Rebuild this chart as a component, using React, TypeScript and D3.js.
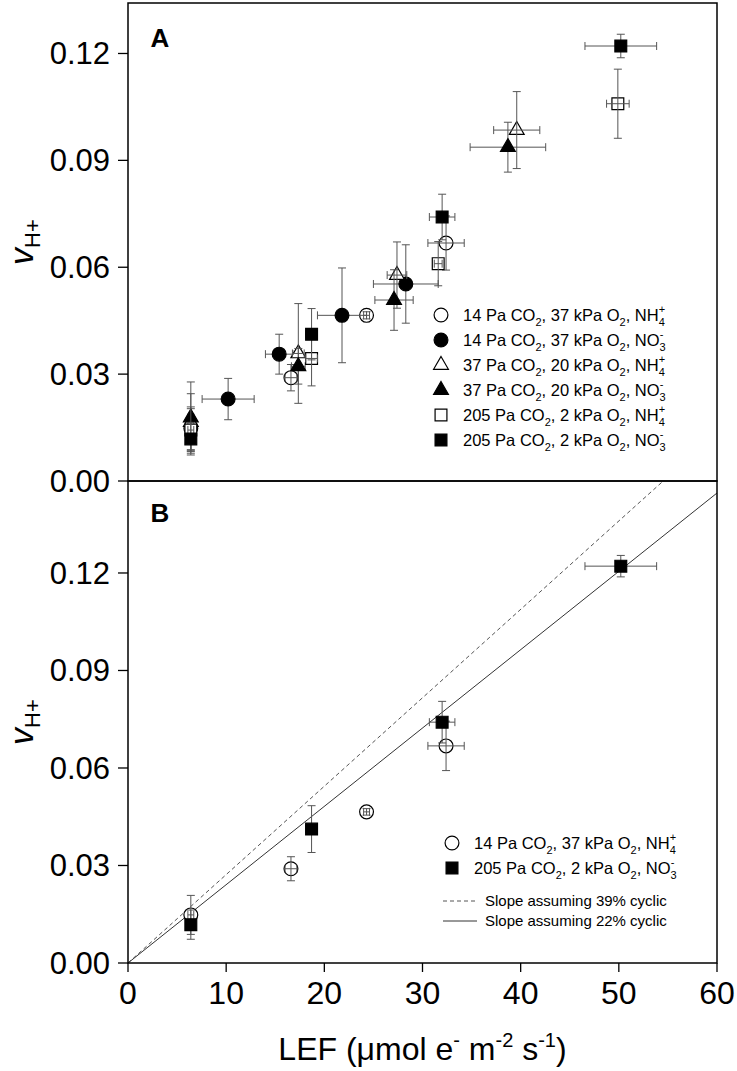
import React from 'react';
import * as d3 from 'd3';

// LEF (x) and vH+ (y) with their error bars, one set per treatment
const lef14NH4 = [6.4, 16.6, 24.3, 32.4];
const vh14NH4 = [0.0148, 0.029, 0.0465, 0.0668];
const lefErr14NH4 = [0.3, 0.6, 0.3, 1.85];
const vhErr14NH4 = [0.006, 0.0037, 0.001, 0.0076];

const lef14NO3 = [10.2, 15.4, 21.8, 28.3];
const vh14NO3 = [0.023, 0.0356, 0.0465, 0.0553];
const lefErr14NO3 = [2.65, 1.4, 2.5, 3.3];
const vhErr14NO3 = [0.0058, 0.0056, 0.0133, 0.011];

const lef37NH4 = [6.4, 17.35, 27.4, 39.6];
const vh37NH4 = [0.0165, 0.0358, 0.0578, 0.0985];
const lefErr37NH4 = [0.3, 0.6, 1.0, 2.35];
const vhErr37NH4 = [0.008, 0.014, 0.0093, 0.0108];

const lef37NO3 = [6.4, 17.35, 27.1, 38.7];
const vh37NO3 = [0.0178, 0.0322, 0.0508, 0.0937];
const lefErr37NO3 = [0.3, 0.7, 1.95, 3.85];
const vhErr37NO3 = [0.01, 0.005, 0.0085, 0.007];

const lef205NH4 = [6.4, 18.7, 31.6, 49.9];
const vh205NH4 = [0.0143, 0.0344, 0.061, 0.1059];
const lefErr205NH4 = [0.3, 0.6, 0.4, 1.15];
const vhErr205NH4 = [0.006, 0.0077, 0.0062, 0.0097];

const lef205NO3 = [6.4, 18.7, 32.0, 50.2];
const vh205NO3 = [0.0118, 0.0412, 0.0741, 0.1221];
const lefErr205NO3 = [0.3, 0.6, 1.3, 3.65];
const vhErr205NO3 = [0.0045, 0.0072, 0.0064, 0.0033];

const co2Labels = ['14', '14', '37', '37', '205', '205'];
const o2Labels = ['37', '37', '20', '20', '2', '2'];
const ionBase = ['NH', 'NO', 'NH', 'NO', 'NH', 'NO'];
const ionSub = ['4', '3', '4', '3', '4', '3'];
const ionSup = ['+', '-', '+', '-', '+', '-'];

const yTicks = [0, 0.03, 0.06, 0.09, 0.12];
const xTicks = [0, 10, 20, 30, 40, 50, 60];

// slopes of the two reference lines in panel B
const slope39 = 0.00272;
const slope22 = 0.00241;
const slopeLabels = ['Slope assuming 39% cyclic', 'Slope assuming 22% cyclic'];

const FONT = 'Liberation Sans, Arial, Helvetica, sans-serif';
const L = 128, R = 717;
const A_TOP = 3, MID = 481, B_BOT = 963;

const x = d3.scaleLinear().domain([0, 60]).range([L, R]);
const yA = d3.scaleLinear().domain([0, 0.13417]).range([MID, A_TOP]);
const yB = d3.scaleLinear().domain([0, 0.1483]).range([B_BOT, MID]);

type Series = {
  xs: number[]; ys: number[]; xe: number[]; ye: number[];
  shape: 'circle' | 'triangle' | 'square'; filled: boolean;
};

const series: Series[] = [
  { xs: lef14NH4, ys: vh14NH4, xe: lefErr14NH4, ye: vhErr14NH4, shape: 'circle', filled: false },
  { xs: lef14NO3, ys: vh14NO3, xe: lefErr14NO3, ye: vhErr14NO3, shape: 'circle', filled: true },
  { xs: lef37NH4, ys: vh37NH4, xe: lefErr37NH4, ye: vhErr37NH4, shape: 'triangle', filled: false },
  { xs: lef37NO3, ys: vh37NO3, xe: lefErr37NO3, ye: vhErr37NO3, shape: 'triangle', filled: true },
  { xs: lef205NH4, ys: vh205NH4, xe: lefErr205NH4, ye: vhErr205NH4, shape: 'square', filled: false },
  { xs: lef205NO3, ys: vh205NO3, xe: lefErr205NO3, ye: vhErr205NO3, shape: 'square', filled: true },
];

const symbolPath = (shape: string) => {
  if (shape === 'circle') return d3.symbol().type(d3.symbolCircle).size(150)()!;
  if (shape === 'triangle') return d3.symbol().type(d3.symbolTriangle).size(95)()!;
  return d3.symbol().type(d3.symbolSquare).size(140)()!;
};

const Marker = ({ s, cx, cy }: { s: Series; cx: number; cy: number }) => (
  <path
    d={symbolPath(s.shape)}
    transform={`translate(${cx},${cy})`}
    fill={s.filled ? '#000' : '#fff'}
    stroke="#000"
    strokeWidth={1.2}
  />
);

const ErrorBars = ({ s, y }: { s: Series; y: d3.ScaleLinear<number, number> }) => (
  <g stroke="#555" strokeWidth={1}>
    {s.xs.map((v, i) => {
      const cx = x(v), cy = y(s.ys[i]);
      const x0 = x(v - s.xe[i]), x1 = x(v + s.xe[i]);
      const y0 = y(s.ys[i] - s.ye[i]), y1 = y(s.ys[i] + s.ye[i]);
      return (
        <g key={i}>
          <line x1={x0} x2={x1} y1={cy} y2={cy} />
          <line x1={x0} x2={x0} y1={cy - 4} y2={cy + 4} />
          <line x1={x1} x2={x1} y1={cy - 4} y2={cy + 4} />
          <line x1={cx} x2={cx} y1={y0} y2={y1} />
          <line x1={cx - 4} x2={cx + 4} y1={y0} y2={y0} />
          <line x1={cx - 4} x2={cx + 4} y1={y1} y2={y1} />
        </g>
      );
    })}
  </g>
);

// open symbols show their own bars on top, filled symbols hide them
const SeriesMarks = ({ s, y }: { s: Series; y: d3.ScaleLinear<number, number> }) => {
  const marks = s.xs.map((v, i) => <Marker key={i} s={s} cx={x(v)} cy={y(s.ys[i])} />);
  return s.filled ? (
    <g><ErrorBars s={s} y={y} />{marks}</g>
  ) : (
    <g>{marks}<ErrorBars s={s} y={y} /></g>
  );
};

const LegendLabel = ({ i, tx, ty }: { i: number; tx: number; ty: number }) => (
  <text x={tx} y={ty} fontSize={16.5} fontFamily={FONT} fill="#000">
    {`${co2Labels[i]} Pa CO`}
    <tspan fontSize={11} dy={5}>2</tspan>
    <tspan dy={-5}>{`, ${o2Labels[i]} kPa O`}</tspan>
    <tspan fontSize={11} dy={5}>2</tspan>
    <tspan dy={-5}>{`, ${ionBase[i]}`}</tspan>
    <tspan fontSize={11} dy={5}>{ionSub[i]}</tspan>
    <tspan fontSize={11} dx={-6} dy={-13}>{ionSup[i]}</tspan>
  </text>
);

const YAxis = ({ y, title }: { y: d3.ScaleLinear<number, number>; title: number }) => (
  <g>
    {yTicks.map((t) => (
      <g key={t}>
        <line x1={L - 10} x2={L} y1={y(t)} y2={y(t)} stroke="#000" strokeWidth={1.3} />
        <text x={110} y={y(t) + 11} textAnchor="end" fontSize={31} fontFamily={FONT}>
          {d3.format('.2f')(t)}
        </text>
      </g>
    ))}
    <text transform={`translate(33,${title}) rotate(-90)`} textAnchor="middle" fontFamily={FONT}>
      <tspan fontSize={34} fontStyle="italic">v</tspan>
      <tspan fontSize={22} dy={7}>H+</tspan>
    </text>
  </g>
);

export default function App() {
  const lineEnd39 = Math.min(60, yB.domain()[1] / slope39);
  const lineEnd22 = Math.min(60, yB.domain()[1] / slope22);
  const bSeries = [series[0], series[5]];
  return (
    <svg width={737} height={1071} style={{ position: 'absolute', left: 0, top: 0, background: '#fff' }}>
      <rect x={0} y={0} width={737} height={1071} fill="#fff" />

      {/* Panel A */}
      {series.map((s, k) => <SeriesMarks key={'sa' + k} s={s} y={yA} />)}
      {series.map((s, k) => (
        <g key={'la' + k}>
          <Marker s={s} cx={441} cy={315 + k * 25} />
          <LegendLabel i={k} tx={463} ty={321 + k * 25} />
        </g>
      ))}
      <rect x={L} y={A_TOP} width={R - L} height={MID - A_TOP} fill="none" stroke="#000" strokeWidth={1.5} />
      <YAxis y={yA} title={(A_TOP + MID) / 2} />
      <text x={160} y={47} textAnchor="middle" fontSize={26} fontWeight="bold" fontFamily={FONT}>A</text>

      {/* Panel B */}
      <line x1={x(0)} y1={yB(0)} x2={x(lineEnd39)} y2={yB(slope39 * lineEnd39)} stroke="#555" strokeWidth={1} strokeDasharray="4,3" />
      <line x1={x(0)} y1={yB(0)} x2={x(lineEnd22)} y2={yB(slope22 * lineEnd22)} stroke="#333" strokeWidth={1} />
      {bSeries.map((s, k) => <SeriesMarks key={'sb' + k} s={s} y={yB} />)}
      <Marker s={series[0]} cx={452} cy={843} />
      <LegendLabel i={0} tx={474} ty={849} />
      <Marker s={series[5]} cx={452} cy={868} />
      <LegendLabel i={5} tx={474} ty={874} />
      <line x1={443} x2={477} y1={901} y2={901} stroke="#555" strokeDasharray="4,3" />
      <line x1={443} x2={477} y1={921} y2={921} stroke="#333" />
      {slopeLabels.map((t, i) => (
        <text key={t} x={485} y={906 + i * 20} fontSize={15} fontFamily={FONT}>{t}</text>
      ))}
      <rect x={L} y={MID} width={R - L} height={B_BOT - MID} fill="none" stroke="#000" strokeWidth={1.5} />
      <YAxis y={yB} title={(MID + B_BOT) / 2} />
      <text x={160} y={522} textAnchor="middle" fontSize={26} fontWeight="bold" fontFamily={FONT}>B</text>

      {/* X axis */}
      {xTicks.map((t) => (
        <g key={t}>
          <line x1={x(t)} x2={x(t)} y1={B_BOT} y2={B_BOT + 9} stroke="#000" strokeWidth={1.3} />
          <text x={x(t)} y={1004} textAnchor="middle" fontSize={32} fontFamily={FONT}>{t}</text>
        </g>
      ))}
      <text x={(L + R) / 2} y={1060} textAnchor="middle" fontSize={32} fontFamily={FONT}>
        LEF (μmol e<tspan fontSize={20} dy={-13}>-</tspan>
        <tspan dy={13}> m</tspan><tspan fontSize={20} dy={-13}>-2</tspan>
        <tspan dy={13}> s</tspan><tspan fontSize={20} dy={-13}>-1</tspan>
        <tspan dy={13}>)</tspan>
      </text>
    </svg>
  );
}
